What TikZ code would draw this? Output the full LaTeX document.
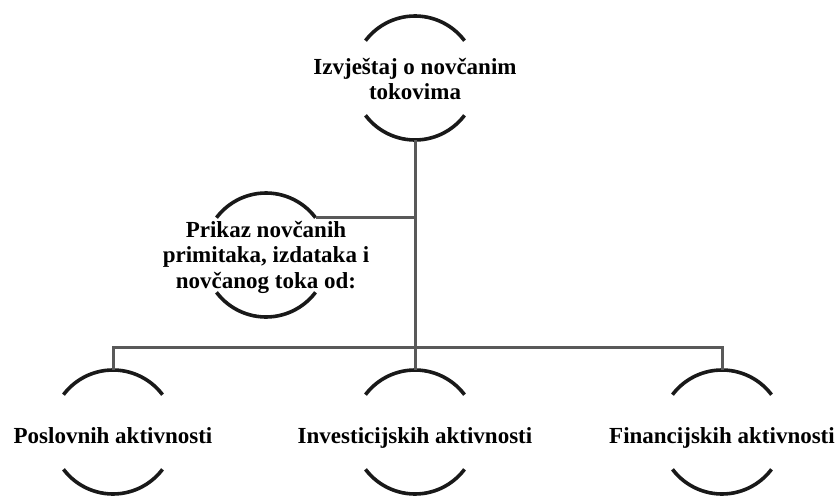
\documentclass[tikz,border=0pt]{standalone}
\usepackage{fontspec}
\setmainfont{Liberation Serif}
\begin{document}
\begin{tikzpicture}[x=1pt,y=1pt,
  ring/.style={circle,minimum size=124pt,inner sep=0pt,outer sep=0pt},
  arcline/.style={line width=3.6pt,black!90},
  conn/.style={line width=3pt,black!65},
  lbl/.style={font=\bfseries\fontsize{23}{25.5}\selectfont,align=center,inner sep=0pt,text=black}]
\useasboundingbox (0,0) rectangle (835,-503);
% ring nodes (circle geometry)
\node[ring] (top) at (415,-78) {};
\node[ring] (prikaz) at (266,-255) {};
\node[ring] (pos) at (113,-432) {};
\node[ring] (inv) at (415,-432) {};
\node[ring] (fin) at (722,-432) {};
% labels
\node[lbl] (toptext) at (415,-79) {Izvještaj o novčanim\\tokovima};
\node[lbl] (prikaztext) at (266,-257) {Prikaz novčanih\\primitaka, izdataka i\\novčanog toka od:};
\node[lbl,anchor=base] (postext) at (113,-443) {Poslovnih aktivnosti};
\node[lbl,anchor=base] (invtext) at (415,-443) {Investicijskih aktivnosti};
\node[lbl,anchor=base] (fintext) at (722,-443) {Financijskih aktivnosti};
% arcs
\foreach \n in {top,prikaz,pos,inv,fin}{
  \draw[arcline] (\n.37) arc[start angle=37,end angle=143,radius=62pt];
  \draw[arcline] (\n.217) arc[start angle=217,end angle=323,radius=62pt];
}
% connectors
\coordinate (bus) at (415,-347);
\draw[conn] (top.270) -- (inv.90);
\draw[conn] (prikaz.37) -- (prikaz.37 -| top.270);
\draw[conn] (pos.90) -- (pos.90 |- bus) -- (fin.90 |- bus) -- (fin.90);
\end{tikzpicture}
\end{document}
